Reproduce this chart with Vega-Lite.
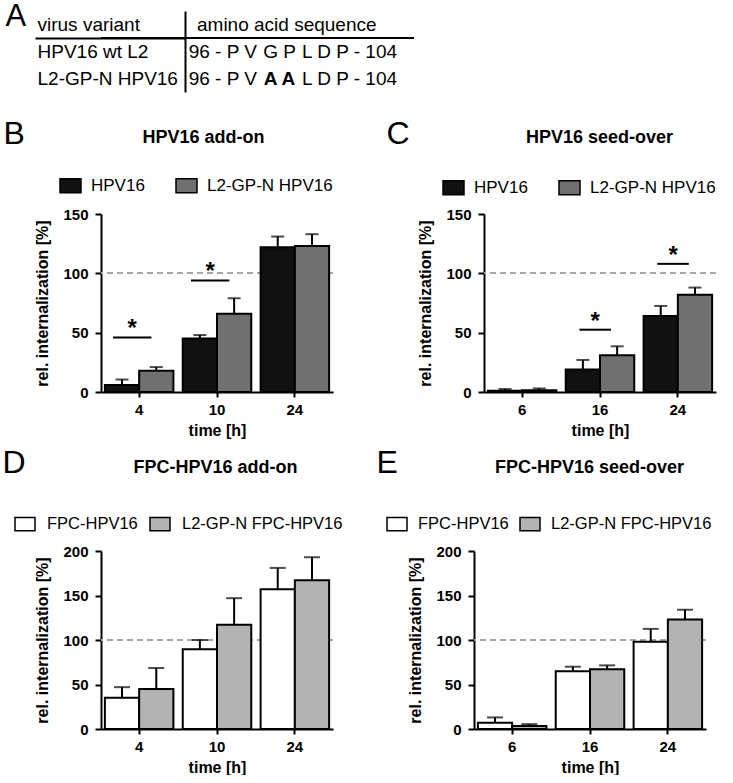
{
  "$schema": "https://vega.github.io/schema/vega-lite/v6.json",
  "background": "white",
  "padding": {"left": 2, "top": 0, "right": 0, "bottom": 0},
  "columns": 1,
  "spacing": {"row": 25, "column": 0},
  "resolve": {"scale": {"fill": "independent", "xOffset": "independent"}, "legend": {"fill": "independent"}},
  "config": {
    "font": "Liberation Sans",
    "view": {"stroke": null},
    "axis": {"domainColor": "#000", "domainWidth": 2, "tickColor": "#000", "tickWidth": 2, "labelColor": "#000", "labelFontSize": 15, "labelFontWeight": "bold", "titleColor": "#000", "titleFontSize": 16, "titleFontWeight": "bold", "grid": false},
    "axisX": {"labelAngle": 0, "tickSize": 5, "labelPadding": 5, "titlePadding": 5},
    "axisY": {"labelPadding": 7, "titlePadding": 12},
    "legend": {"labelFontSize": 17, "labelColor": "#000", "labelFont": "Liberation Sans", "labelLimit": 0, "symbolType": "M-1,-0.6667H1V0.6667H-1Z", "symbolSize": 441, "symbolStrokeColor": "#000", "symbolStrokeWidth": 1.5, "labelOffset": 9, "padding": 0},
    "title": {"color": "#000"}
  },
  "datasets": {
    "A_seq": [
      {"row": "virus variant", "col": "seq", "part": "head", "text": "amino acid sequence"},
      {"row": "HPV16 wt L2", "col": "seq", "part": "pre", "text": "96 - P V"},
      {"row": "HPV16 wt L2", "col": "seq", "part": "mid", "text": "G P"},
      {"row": "HPV16 wt L2", "col": "seq", "part": "post", "text": "L D P - 104"},
      {"row": "L2-GP-N HPV16", "col": "seq", "part": "pre", "text": "96 - P V"},
      {"row": "L2-GP-N HPV16", "col": "seq", "part": "mid", "text": "A A"},
      {"row": "L2-GP-N HPV16", "col": "seq", "part": "post", "text": "L D P - 104"}
    ],
    "B": [
      {"time": "4", "variant": "HPV16", "mean": 6, "upper": 10.5},
      {"time": "4", "variant": "L2-GP-N HPV16", "mean": 18, "upper": 21},
      {"time": "10", "variant": "HPV16", "mean": 45, "upper": 48},
      {"time": "10", "variant": "L2-GP-N HPV16", "mean": 66, "upper": 79},
      {"time": "24", "variant": "HPV16", "mean": 122, "upper": 131},
      {"time": "24", "variant": "L2-GP-N HPV16", "mean": 123, "upper": 133}
    ],
    "Bsig": [
      {"time": "4", "y": 46, "label": "*"},
      {"time": "10", "y": 94, "label": "*"}
    ],
    "C": [
      {"time": "6", "variant": "HPV16", "mean": 1, "upper": 2.5},
      {"time": "6", "variant": "L2-GP-N HPV16", "mean": 1.5, "upper": 3},
      {"time": "16", "variant": "HPV16", "mean": 19, "upper": 27},
      {"time": "16", "variant": "L2-GP-N HPV16", "mean": 31, "upper": 38.5},
      {"time": "24", "variant": "HPV16", "mean": 64, "upper": 72.5},
      {"time": "24", "variant": "L2-GP-N HPV16", "mean": 82, "upper": 88}
    ],
    "Csig": [
      {"time": "16", "y": 52.5, "label": "*"},
      {"time": "24", "y": 108, "label": "*"}
    ],
    "D": [
      {"time": "4", "variant": "FPC-HPV16", "mean": 35, "upper": 47},
      {"time": "4", "variant": "L2-GP-N FPC-HPV16", "mean": 45, "upper": 68.5},
      {"time": "10", "variant": "FPC-HPV16", "mean": 89.5, "upper": 100},
      {"time": "10", "variant": "L2-GP-N FPC-HPV16", "mean": 117, "upper": 147},
      {"time": "24", "variant": "FPC-HPV16", "mean": 157, "upper": 181},
      {"time": "24", "variant": "L2-GP-N FPC-HPV16", "mean": 167, "upper": 193}
    ],
    "E": [
      {"time": "6", "variant": "FPC-HPV16", "mean": 7, "upper": 13},
      {"time": "6", "variant": "L2-GP-N FPC-HPV16", "mean": 3.5, "upper": 5.5},
      {"time": "16", "variant": "FPC-HPV16", "mean": 65, "upper": 70},
      {"time": "16", "variant": "L2-GP-N FPC-HPV16", "mean": 67, "upper": 71.5},
      {"time": "24", "variant": "FPC-HPV16", "mean": 98, "upper": 112.5},
      {"time": "24", "variant": "L2-GP-N FPC-HPV16", "mean": 123, "upper": 134}
    ]
  },
  "concat": [
    {
      "width": 313, "height": 81,
      "data": {"name": "A_seq"},
      "resolve": {"scale": {"x": "independent"}, "axis": {"x": "independent"}},
      "encoding": {
        "y": {"field": "row", "type": "nominal", "scale": {"type": "band", "domain": ["virus variant", "HPV16 wt L2", "L2-GP-N HPV16"], "paddingInner": 0, "paddingOuter": 0}, "axis": {"orient": "left", "offset": -84, "title": null, "domain": true, "domainWidth": 2, "domainColor": "#000", "ticks": true, "tickBand": "extent", "tickExtra": false, "tickSize": 150, "tickWidth": 2, "tickColor": "#000", "tickOpacity": {"condition": {"test": "datum.value === 'virus variant'", "value": 1}, "value": 0}, "labels": true, "labelAlign": "left", "labelBaseline": "middle", "labelPadding": -2, "labelFontSize": 19, "labelFontWeight": "normal", "labelColor": "#000", "labelLimit": 0, "labelOverlap": false, "labelBound": false}}
      },
      "layer": [
        {
          "transform": [{"filter": "datum.part === 'head'"}],
          "mark": {"type": "text", "align": "left", "baseline": "middle", "fontSize": 19, "color": "#000"},
          "encoding": {
            "x": {"field": "col", "type": "nominal", "scale": {"type": "point", "range": [96, 313], "align": 0, "padding": 0}, "axis": {"orient": "top", "labels": false, "ticks": false, "domain": false, "title": "A", "titleX": -96, "titleY": 14, "titleAlign": "left", "titleBaseline": "alphabetic", "titleFontSize": 31, "titleFontWeight": "normal", "titleAngle": 0}},
            "text": {"field": "text"}
          }
        },
        {
          "transform": [{"filter": "datum.part === 'pre'"}],
          "mark": {"type": "text", "align": "right", "baseline": "middle", "fontSize": 19, "color": "#000"},
          "encoding": {
            "x": {"field": "part", "type": "nominal", "scale": {"type": "point", "domain": ["pre", "mid", "post"], "range": [156, 201], "padding": 0}, "axis": null},
            "text": {"field": "text"}
          }
        },
        {
          "transform": [{"filter": "datum.part === 'mid' && datum.row === 'HPV16 wt L2'"}],
          "mark": {"type": "text", "align": "center", "baseline": "middle", "fontSize": 19, "color": "#000"},
          "encoding": {
            "x": {"field": "part", "type": "nominal", "scale": {"type": "point", "domain": ["pre", "mid", "post"], "range": [156, 201], "padding": 0}, "axis": null},
            "text": {"field": "text"}
          }
        },
        {
          "transform": [{"filter": "datum.part === 'mid' && datum.row === 'L2-GP-N HPV16'"}],
          "mark": {"type": "text", "align": "center", "baseline": "middle", "fontSize": 19, "fontWeight": "bold", "color": "#000"},
          "encoding": {
            "x": {"field": "part", "type": "nominal", "scale": {"type": "point", "domain": ["pre", "mid", "post"], "range": [156, 201], "padding": 0}, "axis": null},
            "text": {"field": "text"}
          }
        },
        {
          "transform": [{"filter": "datum.part === 'post'"}],
          "mark": {"type": "text", "align": "left", "baseline": "middle", "fontSize": 19, "color": "#000"},
          "encoding": {
            "x": {"field": "part", "type": "nominal", "scale": {"type": "point", "domain": ["pre", "mid", "post"], "range": [156, 201], "padding": 0}, "axis": null},
            "text": {"field": "text"}
          }
        },
        {
          "transform": [{"filter": "datum.part === 'pre' && datum.row === 'HPV16 wt L2'"}],
          "mark": {"type": "rule", "strokeWidth": 2, "color": "#000"},
          "encoding": {
            "y": {"field": "row", "type": "nominal", "bandPosition": 0, "scale": {"type": "band", "domain": ["virus variant", "HPV16 wt L2", "L2-GP-N HPV16"], "paddingInner": 0, "paddingOuter": 0}, "axis": {"orient": "left", "offset": -84, "title": null, "domain": true, "domainWidth": 2, "domainColor": "#000", "ticks": true, "tickBand": "extent", "tickExtra": false, "tickSize": 150, "tickWidth": 2, "tickColor": "#000", "tickOpacity": {"condition": {"test": "datum.value === 'virus variant'", "value": 1}, "value": 0}, "labels": true, "labelAlign": "left", "labelBaseline": "middle", "labelPadding": -2, "labelFontSize": 19, "labelFontWeight": "normal", "labelColor": "#000", "labelLimit": 0, "labelOverlap": false, "labelBound": false}}
          }
        }
      ]
    },
    {
      "spacing": 8,
      "resolve": {"scale": {"fill": "independent", "xOffset": "independent"}, "legend": {"fill": "independent"}},
      "vconcat": [
        {
          "spacing": 52,
          "resolve": {"scale": {"fill": "independent", "xOffset": "independent"}, "legend": {"fill": "independent"}},
          "hconcat": [
            {
              "width": 232, "height": 178,
              "data": {"name": "B"},
              "resolve": {"axis": {"x": "independent"}},
              "layer": [
                {"mark": {"type": "rule", "color": "#a6a6a6", "strokeDash": [6, 4], "strokeWidth": 1.5}, "encoding": {"y": {"datum": 100, "type": "quantitative", "scale": {"domain": [0, 150], "nice": false}}}},
                {
                  "mark": {"type": "bar", "stroke": "#000", "strokeWidth": 2},
                  "encoding": {
                    "x": {"field": "time", "type": "nominal", "scale": {"type": "band", "domain": ["4", "10", "24"], "paddingInner": 0.12, "paddingOuter": 0.05}, "axis": {"title": "time [h]"}},
                    "xOffset": {"field": "variant", "type": "nominal", "scale": {"type": "band", "domain": ["HPV16", "L2-GP-N HPV16"], "paddingInner": 0, "paddingOuter": 0}},
                    "y": {"field": "mean", "type": "quantitative", "scale": {"domain": [0, 150], "nice": false}, "axis": {"title": "rel. internalization [%]", "values": [0, 25, 50, 75, 100, 125, 150], "labelExpr": "datum.value % 50 === 0 ? datum.label : ''", "tickSize": {"condition": {"test": "datum.value % 50 === 0", "value": 6}, "value": 4}}},
                    "fill": {"field": "variant", "type": "nominal", "scale": {"domain": ["HPV16", "L2-GP-N HPV16"], "range": ["#111111", "#707070"]}, "legend": {"orient": "none", "legendX": -42, "legendY": -40, "direction": "horizontal", "title": null, "columnPadding": 28}}
                  }
                },
                {
                  "mark": {"type": "rule", "color": "#000", "strokeWidth": 2},
                  "encoding": {
                    "x": {"field": "time", "type": "nominal", "scale": {"type": "band", "domain": ["4", "10", "24"], "paddingInner": 0.12, "paddingOuter": 0.05}, "axis": {"orient": "top", "labels": false, "ticks": false, "domain": false, "title": "B", "titleX": -98, "titleY": -71, "titleAlign": "left", "titleBaseline": "alphabetic", "titleFontSize": 32, "titleFontWeight": "normal", "titleAngle": 0}},
                    "xOffset": {"field": "variant", "type": "nominal", "scale": {"type": "band", "domain": ["HPV16", "L2-GP-N HPV16"], "paddingInner": 0, "paddingOuter": 0}},
                    "y": {"field": "mean", "type": "quantitative", "scale": {"domain": [0, 150], "nice": false}},
                    "y2": {"field": "upper"}
                  }
                },
                {
                  "mark": {"type": "tick", "color": "#000", "thickness": 2, "size": 13},
                  "encoding": {
                    "x": {"field": "time", "type": "nominal", "scale": {"type": "band", "domain": ["4", "10", "24"], "paddingInner": 0.12, "paddingOuter": 0.05}, "axis": {"orient": "top", "labels": false, "ticks": false, "domain": false, "title": "HPV16 add-on", "titleX": 102, "titleY": -72, "titleAlign": "center", "titleBaseline": "alphabetic", "titleFontSize": 18, "titleFontWeight": "bold", "titleAngle": 0}},
                    "xOffset": {"field": "variant", "type": "nominal", "scale": {"type": "band", "domain": ["HPV16", "L2-GP-N HPV16"], "paddingInner": 0, "paddingOuter": 0}},
                    "y": {"field": "upper", "type": "quantitative", "scale": {"domain": [0, 150], "nice": false}}
                  }
                },
                {
                  "data": {"name": "Bsig"},
                  "mark": {"type": "rule", "color": "#000", "strokeWidth": 2},
                  "encoding": {
                    "x": {"field": "time", "type": "nominal", "bandPosition": 0.12, "scale": {"type": "band", "domain": ["4", "10", "24"], "paddingInner": 0.12, "paddingOuter": 0.05}, "axis": null},
                    "x2": {"field": "time", "bandPosition": 0.68},
                    "y": {"field": "y", "type": "quantitative", "scale": {"domain": [0, 150], "nice": false}}
                  }
                },
                {
                  "data": {"name": "Bsig"},
                  "mark": {"type": "text", "fontSize": 24, "fontWeight": "bold", "baseline": "alphabetic", "dy": -1, "color": "#000"},
                  "encoding": {
                    "x": {"field": "time", "type": "nominal", "bandPosition": 0.4, "scale": {"type": "band", "domain": ["4", "10", "24"], "paddingInner": 0.12, "paddingOuter": 0.05}, "axis": null},
                    "y": {"field": "y", "type": "quantitative", "scale": {"domain": [0, 150], "nice": false}},
                    "text": {"field": "label"}
                  }
                }
              ]
            },
            {
              "width": 232, "height": 178,
              "data": {"name": "C"},
              "resolve": {"axis": {"x": "independent"}},
              "layer": [
                {"mark": {"type": "rule", "color": "#a6a6a6", "strokeDash": [6, 4], "strokeWidth": 1.5}, "encoding": {"y": {"datum": 100, "type": "quantitative", "scale": {"domain": [0, 150], "nice": false}}}},
                {
                  "mark": {"type": "bar", "stroke": "#000", "strokeWidth": 2},
                  "encoding": {
                    "x": {"field": "time", "type": "nominal", "scale": {"type": "band", "domain": ["6", "16", "24"], "paddingInner": 0.12, "paddingOuter": 0.05}, "axis": {"title": "time [h]"}},
                    "xOffset": {"field": "variant", "type": "nominal", "scale": {"type": "band", "domain": ["HPV16", "L2-GP-N HPV16"], "paddingInner": 0, "paddingOuter": 0}},
                    "y": {"field": "mean", "type": "quantitative", "scale": {"domain": [0, 150], "nice": false}, "axis": {"title": "rel. internalization [%]", "values": [0, 25, 50, 75, 100, 125, 150], "labelExpr": "datum.value % 50 === 0 ? datum.label : ''", "tickSize": {"condition": {"test": "datum.value % 50 === 0", "value": 6}, "value": 4}}},
                    "fill": {"field": "variant", "type": "nominal", "scale": {"domain": ["HPV16", "L2-GP-N HPV16"], "range": ["#111111", "#707070"]}, "legend": {"orient": "none", "legendX": -42, "legendY": -38, "direction": "horizontal", "title": null, "columnPadding": 28}}
                  }
                },
                {
                  "mark": {"type": "rule", "color": "#000", "strokeWidth": 2},
                  "encoding": {
                    "x": {"field": "time", "type": "nominal", "scale": {"type": "band", "domain": ["6", "16", "24"], "paddingInner": 0.12, "paddingOuter": 0.05}, "axis": {"orient": "top", "labels": false, "ticks": false, "domain": false, "title": "C", "titleX": -98, "titleY": -71, "titleAlign": "left", "titleBaseline": "alphabetic", "titleFontSize": 32, "titleFontWeight": "normal", "titleAngle": 0}},
                    "xOffset": {"field": "variant", "type": "nominal", "scale": {"type": "band", "domain": ["HPV16", "L2-GP-N HPV16"], "paddingInner": 0, "paddingOuter": 0}},
                    "y": {"field": "mean", "type": "quantitative", "scale": {"domain": [0, 150], "nice": false}},
                    "y2": {"field": "upper"}
                  }
                },
                {
                  "mark": {"type": "tick", "color": "#000", "thickness": 2, "size": 13},
                  "encoding": {
                    "x": {"field": "time", "type": "nominal", "scale": {"type": "band", "domain": ["6", "16", "24"], "paddingInner": 0.12, "paddingOuter": 0.05}, "axis": {"orient": "top", "labels": false, "ticks": false, "domain": false, "title": "HPV16 seed-over", "titleX": 115, "titleY": -72, "titleAlign": "center", "titleBaseline": "alphabetic", "titleFontSize": 18, "titleFontWeight": "bold", "titleAngle": 0}},
                    "xOffset": {"field": "variant", "type": "nominal", "scale": {"type": "band", "domain": ["HPV16", "L2-GP-N HPV16"], "paddingInner": 0, "paddingOuter": 0}},
                    "y": {"field": "upper", "type": "quantitative", "scale": {"domain": [0, 150], "nice": false}}
                  }
                },
                {
                  "data": {"name": "Csig"},
                  "mark": {"type": "rule", "color": "#000", "strokeWidth": 2},
                  "encoding": {
                    "x": {"field": "time", "type": "nominal", "bandPosition": 0.2, "scale": {"type": "band", "domain": ["6", "16", "24"], "paddingInner": 0.12, "paddingOuter": 0.05}, "axis": null},
                    "x2": {"field": "time", "bandPosition": 0.66},
                    "y": {"field": "y", "type": "quantitative", "scale": {"domain": [0, 150], "nice": false}}
                  }
                },
                {
                  "data": {"name": "Csig"},
                  "mark": {"type": "text", "fontSize": 24, "fontWeight": "bold", "baseline": "alphabetic", "dy": -1, "color": "#000"},
                  "encoding": {
                    "x": {"field": "time", "type": "nominal", "bandPosition": 0.43, "scale": {"type": "band", "domain": ["6", "16", "24"], "paddingInner": 0.12, "paddingOuter": 0.05}, "axis": null},
                    "y": {"field": "y", "type": "quantitative", "scale": {"domain": [0, 150], "nice": false}},
                    "text": {"field": "label"}
                  }
                }
              ]
            }
          ]
        },
        {
          "spacing": 33,
          "resolve": {"scale": {"fill": "independent", "xOffset": "independent"}, "legend": {"fill": "independent"}},
          "hconcat": [
            {
              "width": 232, "height": 178,
              "data": {"name": "D"},
              "resolve": {"axis": {"x": "independent"}},
              "layer": [
                {"mark": {"type": "rule", "color": "#a6a6a6", "strokeDash": [6, 4], "strokeWidth": 1.5}, "encoding": {"y": {"datum": 100, "type": "quantitative", "scale": {"domain": [0, 200], "nice": false}}}},
                {
                  "mark": {"type": "bar", "stroke": "#000", "strokeWidth": 2},
                  "encoding": {
                    "x": {"field": "time", "type": "nominal", "scale": {"type": "band", "domain": ["4", "10", "24"], "paddingInner": 0.12, "paddingOuter": 0.05}, "axis": {"title": "time [h]"}},
                    "xOffset": {"field": "variant", "type": "nominal", "scale": {"type": "band", "domain": ["FPC-HPV16", "L2-GP-N FPC-HPV16"], "paddingInner": 0, "paddingOuter": 0}},
                    "y": {"field": "mean", "type": "quantitative", "scale": {"domain": [0, 200], "nice": false}, "axis": {"title": "rel. internalization [%]", "values": [0, 25, 50, 75, 100, 125, 150, 175, 200], "labelExpr": "datum.value % 50 === 0 ? datum.label : ''", "tickSize": {"condition": {"test": "datum.value % 50 === 0", "value": 6}, "value": 4}}},
                    "fill": {"field": "variant", "type": "nominal", "scale": {"domain": ["FPC-HPV16", "L2-GP-N FPC-HPV16"], "range": ["#ffffff", "#b3b3b3"]}, "legend": {"orient": "none", "legendX": -87, "legendY": -38, "direction": "horizontal", "title": null, "columnPadding": 9, "symbolSize": 400, "labelOffset": 11, "labelFontSize": 16.5}}
                  }
                },
                {
                  "mark": {"type": "rule", "color": "#000", "strokeWidth": 2},
                  "encoding": {
                    "x": {"field": "time", "type": "nominal", "scale": {"type": "band", "domain": ["4", "10", "24"], "paddingInner": 0.12, "paddingOuter": 0.05}, "axis": {"orient": "top", "labels": false, "ticks": false, "domain": false, "title": "D", "titleX": -99, "titleY": -79, "titleAlign": "left", "titleBaseline": "alphabetic", "titleFontSize": 32, "titleFontWeight": "normal", "titleAngle": 0}},
                    "xOffset": {"field": "variant", "type": "nominal", "scale": {"type": "band", "domain": ["FPC-HPV16", "L2-GP-N FPC-HPV16"], "paddingInner": 0, "paddingOuter": 0}},
                    "y": {"field": "mean", "type": "quantitative", "scale": {"domain": [0, 200], "nice": false}},
                    "y2": {"field": "upper"}
                  }
                },
                {
                  "mark": {"type": "tick", "color": "#000", "thickness": 2, "size": 16},
                  "encoding": {
                    "x": {"field": "time", "type": "nominal", "scale": {"type": "band", "domain": ["4", "10", "24"], "paddingInner": 0.12, "paddingOuter": 0.05}, "axis": {"orient": "top", "labels": false, "ticks": false, "domain": false, "title": "FPC-HPV16 add-on", "titleX": 114, "titleY": -79, "titleAlign": "center", "titleBaseline": "alphabetic", "titleFontSize": 18, "titleFontWeight": "bold", "titleAngle": 0}},
                    "xOffset": {"field": "variant", "type": "nominal", "scale": {"type": "band", "domain": ["FPC-HPV16", "L2-GP-N FPC-HPV16"], "paddingInner": 0, "paddingOuter": 0}},
                    "y": {"field": "upper", "type": "quantitative", "scale": {"domain": [0, 200], "nice": false}}
                  }
                }
              ]
            },
            {
              "width": 232, "height": 178,
              "data": {"name": "E"},
              "resolve": {"axis": {"x": "independent"}},
              "layer": [
                {"mark": {"type": "rule", "color": "#a6a6a6", "strokeDash": [6, 4], "strokeWidth": 1.5}, "encoding": {"y": {"datum": 100, "type": "quantitative", "scale": {"domain": [0, 200], "nice": false}}}},
                {
                  "mark": {"type": "bar", "stroke": "#000", "strokeWidth": 2},
                  "encoding": {
                    "x": {"field": "time", "type": "nominal", "scale": {"type": "band", "domain": ["6", "16", "24"], "paddingInner": 0.12, "paddingOuter": 0.05}, "axis": {"title": "time [h]"}},
                    "xOffset": {"field": "variant", "type": "nominal", "scale": {"type": "band", "domain": ["FPC-HPV16", "L2-GP-N FPC-HPV16"], "paddingInner": 0, "paddingOuter": 0}},
                    "y": {"field": "mean", "type": "quantitative", "scale": {"domain": [0, 200], "nice": false}, "axis": {"title": "rel. internalization [%]", "values": [0, 25, 50, 75, 100, 125, 150, 175, 200], "labelExpr": "datum.value % 50 === 0 ? datum.label : ''", "tickSize": {"condition": {"test": "datum.value % 50 === 0", "value": 6}, "value": 4}}},
                    "fill": {"field": "variant", "type": "nominal", "scale": {"domain": ["FPC-HPV16", "L2-GP-N FPC-HPV16"], "range": ["#ffffff", "#b3b3b3"]}, "legend": {"orient": "none", "legendX": -88, "legendY": -38, "direction": "horizontal", "title": null, "columnPadding": 8, "symbolSize": 400, "labelOffset": 10, "labelFontSize": 16.5}}
                  }
                },
                {
                  "mark": {"type": "rule", "color": "#000", "strokeWidth": 2},
                  "encoding": {
                    "x": {"field": "time", "type": "nominal", "scale": {"type": "band", "domain": ["6", "16", "24"], "paddingInner": 0.12, "paddingOuter": 0.05}, "axis": {"orient": "top", "labels": false, "ticks": false, "domain": false, "title": "E", "titleX": -98, "titleY": -79, "titleAlign": "left", "titleBaseline": "alphabetic", "titleFontSize": 32, "titleFontWeight": "normal", "titleAngle": 0}},
                    "xOffset": {"field": "variant", "type": "nominal", "scale": {"type": "band", "domain": ["FPC-HPV16", "L2-GP-N FPC-HPV16"], "paddingInner": 0, "paddingOuter": 0}},
                    "y": {"field": "mean", "type": "quantitative", "scale": {"domain": [0, 200], "nice": false}},
                    "y2": {"field": "upper"}
                  }
                },
                {
                  "mark": {"type": "tick", "color": "#000", "thickness": 2, "size": 16},
                  "encoding": {
                    "x": {"field": "time", "type": "nominal", "scale": {"type": "band", "domain": ["6", "16", "24"], "paddingInner": 0.12, "paddingOuter": 0.05}, "axis": {"orient": "top", "labels": false, "ticks": false, "domain": false, "title": "FPC-HPV16 seed-over", "titleX": 115, "titleY": -79, "titleAlign": "center", "titleBaseline": "alphabetic", "titleFontSize": 18, "titleFontWeight": "bold", "titleAngle": 0}},
                    "xOffset": {"field": "variant", "type": "nominal", "scale": {"type": "band", "domain": ["FPC-HPV16", "L2-GP-N FPC-HPV16"], "paddingInner": 0, "paddingOuter": 0}},
                    "y": {"field": "upper", "type": "quantitative", "scale": {"domain": [0, 200], "nice": false}}
                  }
                }
              ]
            }
          ]
        }
      ]
    }
  ]
}
